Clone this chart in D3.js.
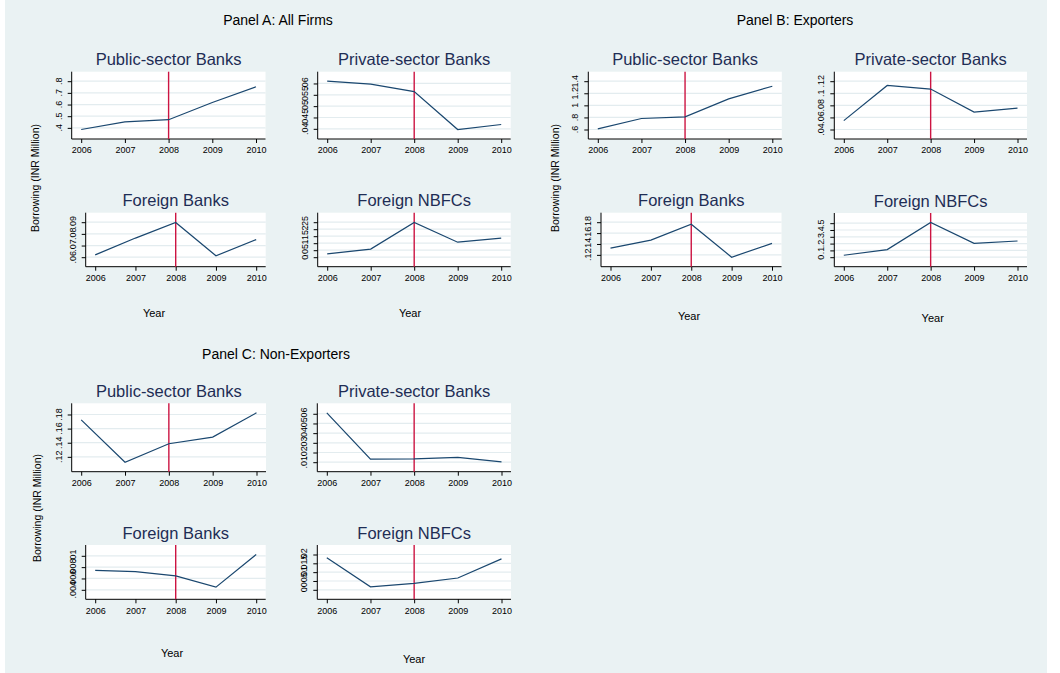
<!DOCTYPE html>
<html>
<head>
<meta charset="utf-8">
<script src="https://cdn.jsdelivr.net/npm/d3@7"></script>
<style>
  body { margin: 0; background: #ffffff; }
  svg { display: block; font-family: "Liberation Sans", Arial, sans-serif; }
</style>
</head>
<body>
<div id="vis"></div>
<script>
// data
var years = [2006, 2007, 2008, 2009, 2010];
var breakYear = 2008;
var lenders = ['Public-sector Banks', 'Private-sector Banks', 'Foreign Banks', 'Foreign NBFCs'];
var panelTitles = ['Panel A: All Firms', 'Panel B: Exporters', 'Panel C: Non-Exporters'];

// Panel A: all firms
var allPublic = [0.386, 0.451, 0.470, 0.617, 0.752];
var allPrivate = [0.0610, 0.0597, 0.0564, 0.0397, 0.0419];
var allForeignBanks = [0.0620, 0.0764, 0.0897, 0.0612, 0.0751];
var allForeignNbfc = [0.024, 0.058, 0.248, 0.107, 0.136];
var allPublicTicks = [0.4, 0.5, 0.6, 0.7, 0.8];
var allPrivateTicks = [0.04, 0.045, 0.05, 0.055, 0.06];
var allForeignBanksTicks = [0.06, 0.07, 0.08, 0.09];
var allForeignNbfcTicks = [0, 0.05, 0.1, 0.15, 0.2, 0.25];

// Panel B: exporters
var expPublic = [0.611, 0.782, 0.810, 1.108, 1.317];
var expPrivate = [0.0547, 0.1129, 0.1070, 0.0688, 0.0754];
var expForeignBanks = [0.1324, 0.1472, 0.1763, 0.1157, 0.1410];
var expForeignNbfc = [0.029, 0.112, 0.510, 0.204, 0.238];
var expPublicTicks = [0.6, 0.8, 1, 1.2, 1.4];
var expPrivateTicks = [0.04, 0.06, 0.08, 0.1, 0.12];
var expForeignBanksTicks = [0.12, 0.14, 0.16, 0.18];
var expForeignNbfcTicks = [0, 0.1, 0.2, 0.3, 0.4, 0.5];

// Panel C: non-exporters
var nonPublic = [0.1724, 0.1124, 0.1386, 0.1480, 0.1824];
var nonPrivate = [0.0610, 0.0131, 0.0135, 0.0149, 0.0103];
var nonForeignBanks = [0.00744, 0.00720, 0.00645, 0.00447, 0.01023];
var nonForeignNbfc = [0.0181, 0.0017, 0.0036, 0.0067, 0.0175];
var nonPublicTicks = [0.12, 0.14, 0.16, 0.18];
var nonPrivateTicks = [0.01, 0.02, 0.03, 0.04, 0.05, 0.06];
var nonForeignBanksTicks = [0.004, 0.006, 0.008, 0.01];
var nonForeignNbfcTicks = [0, 0.005, 0.01, 0.015, 0.02];

var width = 1060;
var height = 673;

var bgColor = '#eaf2f3';
var lineColor = '#1a476f';
var breakColor = '#cc1442';
var gridColor = '#e3ecef';
var titleColor = '#1e2d55';

// plot boxes [left, right, top, bottom]
var panels = [
  {
    title: panelTitles[0], titleX: 278, titleY: 25,
    yTitle: { x: 35, y: 178 },
    series: [allPublic, allPrivate, allForeignBanks, allForeignNbfc],
    ticks: [allPublicTicks, allPrivateTicks, allForeignBanksTicks, allForeignNbfcTicks],
    boxes: [[71.7, 265.5, 71.7, 139], [317.7, 510.7, 71.7, 139],
            [85.7, 265.7, 212.7, 266.7], [317.7, 510.7, 212.7, 266.7]],
    yearLabels: [[154, 317], [410, 317]]
  },
  {
    title: panelTitles[1], titleX: 795, titleY: 25,
    yTitle: { x: 555, y: 178 },
    series: [expPublic, expPrivate, expForeignBanks, expForeignNbfc],
    ticks: [expPublicTicks, expPrivateTicks, expForeignBanksTicks, expForeignNbfcTicks],
    boxes: [[588.3, 781.8, 71.7, 139], [834.3, 1027, 71.7, 139],
            [601, 781.5, 212.7, 266.7], [834.3, 1027, 213, 266.7]],
    yearLabels: [[689, 320], [932.7, 322]]
  },
  {
    title: panelTitles[2], titleX: 276, titleY: 359,
    yTitle: { x: 37, y: 508 },
    series: [nonPublic, nonPrivate, nonForeignBanks, nonForeignNbfc],
    ticks: [nonPublicTicks, nonPrivateTicks, nonForeignBanksTicks, nonForeignNbfcTicks],
    boxes: [[71.7, 266, 403.3, 471.7], [317.3, 511, 403.3, 471.7],
            [85.7, 265.7, 545, 599.3], [317.3, 511, 545, 599.3]],
    yearLabels: [[172, 657], [414, 663]]
  }
];

// Stata style numbers: .4, .045, 1.2, 0
function stataFmt(v) {
  if (v === 0) return '0';
  return String(+v.toFixed(4)).replace(/^0\./, '.');
}

var svg = d3.select('#vis')
  .append('svg')
  .attr('width', width)
  .attr('height', height);

svg.append('rect')
  .attr('x', 5)
  .attr('y', 0)
  .attr('width', 1042)
  .attr('height', height)
  .attr('fill', bgColor);

function drawPlot(g, name, values, ticks, box) {
  var left = box[0], right = box[1], top = box[2], bottom = box[3];
  var pad = 9.5;

  var x = d3.scaleLinear()
    .domain(d3.extent(years))
    .range([left + pad, right - pad]);

  var y = d3.scaleLinear()
    .domain(d3.extent(values.concat(ticks)))
    .range([bottom - pad, top + pad]);

  g.append('rect')
    .attr('x', left)
    .attr('y', top)
    .attr('width', right - left)
    .attr('height', bottom - top)
    .attr('fill', '#ffffff');

  g.selectAll('.grid')
    .data(ticks)
    .enter().append('line')
    .attr('class', 'grid')
    .attr('x1', left)
    .attr('x2', right)
    .attr('y1', function (d) { return y(d); })
    .attr('y2', function (d) { return y(d); })
    .attr('stroke', gridColor)
    .attr('stroke-width', 1.2);

  // y axis, labels turned like Stata
  var yAxis = g.append('g')
    .attr('transform', 'translate(' + left + ',0)')
    .call(d3.axisLeft(y).tickValues(ticks).tickSize(4).tickFormat(''));
  yAxis.select('.domain').attr('d', 'M0,' + top + 'V' + bottom);
  yAxis.selectAll('line').attr('stroke', '#000');

  g.selectAll('.ylab')
    .data(ticks)
    .enter().append('text')
    .attr('class', 'ylab')
    .attr('transform', function (d) {
      return 'translate(' + (left - 10) + ',' + y(d) + ') rotate(-90)';
    })
    .attr('text-anchor', 'middle')
    .attr('font-size', 9)
    .attr('fill', '#000')
    .text(stataFmt);

  var xAxis = g.append('g')
    .attr('transform', 'translate(0,' + bottom + ')')
    .call(d3.axisBottom(x).tickValues(years).tickSize(4).tickFormat(d3.format('d')));
  xAxis.select('.domain').attr('d', 'M' + left + ',0H' + right);
  xAxis.selectAll('line').attr('stroke', '#000');
  xAxis.selectAll('text')
    .attr('font-size', 9)
    .attr('font-family', '"Liberation Sans", Arial, sans-serif')
    .attr('fill', '#000')
    .attr('y', 8);

  // 2008 marker
  g.append('line')
    .attr('x1', x(breakYear))
    .attr('x2', x(breakYear))
    .attr('y1', top)
    .attr('y2', bottom)
    .attr('stroke', breakColor)
    .attr('stroke-width', 1.4);

  var line = d3.line()
    .x(function (d, i) { return x(years[i]); })
    .y(function (d) { return y(d); });

  g.append('path')
    .datum(values)
    .attr('d', line)
    .attr('fill', 'none')
    .attr('stroke', lineColor)
    .attr('stroke-width', 1.2);

  g.append('text')
    .attr('x', (left + right) / 2)
    .attr('y', top - 6.5)
    .attr('text-anchor', 'middle')
    .attr('font-size', 16.5)
    .attr('fill', titleColor)
    .text(name);
}

panels.forEach(function (p) {
  var g = svg.append('g');

  g.append('text')
    .attr('x', p.titleX)
    .attr('y', p.titleY)
    .attr('text-anchor', 'middle')
    .attr('font-size', 14)
    .attr('fill', '#000')
    .text(p.title);

  g.append('text')
    .attr('transform', 'translate(' + (p.yTitle.x + 4) + ',' + p.yTitle.y + ') rotate(-90)')
    .attr('text-anchor', 'middle')
    .attr('font-size', 10.5)
    .attr('fill', '#000')
    .text('Borrowing (INR Million)');

  p.series.forEach(function (values, i) {
    drawPlot(g.append('g'), lenders[i], values, p.ticks[i], p.boxes[i]);
  });

  g.selectAll('.xtitle')
    .data(p.yearLabels)
    .enter().append('text')
    .attr('class', 'xtitle')
    .attr('x', function (d) { return d[0]; })
    .attr('y', function (d) { return d[1]; })
    .attr('text-anchor', 'middle')
    .attr('font-size', 11)
    .attr('fill', '#000')
    .text('Year');
});
</script>
</body>
</html>
